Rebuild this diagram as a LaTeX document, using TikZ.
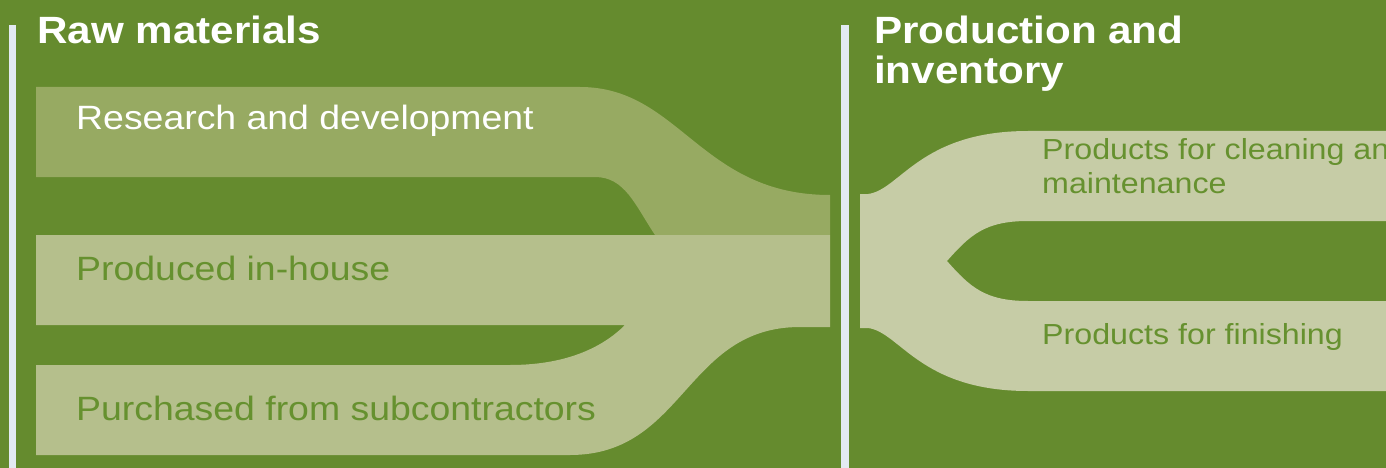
\documentclass[tikz,border=0pt]{standalone}
\usepackage{fontspec}
\setmainfont[FakeStretch=1.11]{Liberation Sans}
\definecolor{leaf}{HTML}{658B2E}
\definecolor{rdband}{HTML}{97AA62}
\definecolor{inband}{HTML}{B5BF8C}
\definecolor{outband}{HTML}{C6CCA6}
\definecolor{divider}{HTML}{E3EAF2}
\definecolor{leaftext}{HTML}{66912F}

\begin{document}
\begin{tikzpicture}[x=1pt, y=-1pt,
  heading/.style={anchor=base west, inner sep=0pt, text=white, align=left,
    font=\fontsize{38}{40}\selectfont\bfseries},
  inlabel/.style={anchor=base west, inner sep=0pt,
    font=\fontsize{33.7}{40}\selectfont},
  outlabel/.style={anchor=base west, inner sep=0pt, text=leaftext, align=left,
    font=\fontsize{29}{34}\selectfont}]
  \path[use as bounding box] (0,0) rectangle (1386,468);
  \clip (0,0) rectangle (1386,468);
  \fill[leaf] (0,0) rectangle (1386,468);

  % Column dividers
  \fill[divider] (9,25) rectangle (16,468);
  \fill[divider] (841,25) rectangle (849,468);

  % Raw materials
  \begin{scope}
    \fill[rdband] (36,87) -- (580,87) .. controls (680,87) and (700,195) .. (830,195)
      -- (830,235) -- (655,235) .. controls (635,205) and (625,177) .. (595,177)
      -- (36,177) -- cycle;
    \fill[inband] (36,235) -- (830,235) -- (830,327) -- (800,327)
      .. controls (685,327) and (685,455) .. (570,455) -- (36,455) -- (36,365)
      -- (510,365) .. controls (570,365) and (605,345) .. (625,325) -- (36,325) -- cycle;

    \node[heading] (raw) at (37,43.3) {Raw materials};
    \node[inlabel, text=white] (rd) at (76,130) {Research and development};
    \node[inlabel, text=leaftext] (inhouse) at (76,280) {Produced in-house};
    \node[inlabel, text=leaftext] (bought) at (76,420) {Purchased from subcontractors};
  \end{scope}

  % Production and inventory (base anchor sits on the last line)
  \begin{scope}
    \fill[outband] (860,194) -- (868,194) .. controls (900,190) and (920,131) .. (1028,131)
      -- (1386,131) -- (1386,221) -- (1028,221) .. controls (985,221) and (970,235) .. (947,261)
      .. controls (970,287) and (985,301) .. (1028,301) -- (1386,301) -- (1386,391)
      -- (1028,391) .. controls (920,391) and (900,332) .. (868,328) -- (860,328) -- cycle;

    \node[heading] (prod) at (874,83.3) {Production and\\inventory};
    \node[outlabel] (cleaning) at (1042,193.3) {Products for cleaning and\\maintenance};
    \node[outlabel] (finishing) at (1042,344.3) {Products for finishing};
  \end{scope}
\end{tikzpicture}
\end{document}
